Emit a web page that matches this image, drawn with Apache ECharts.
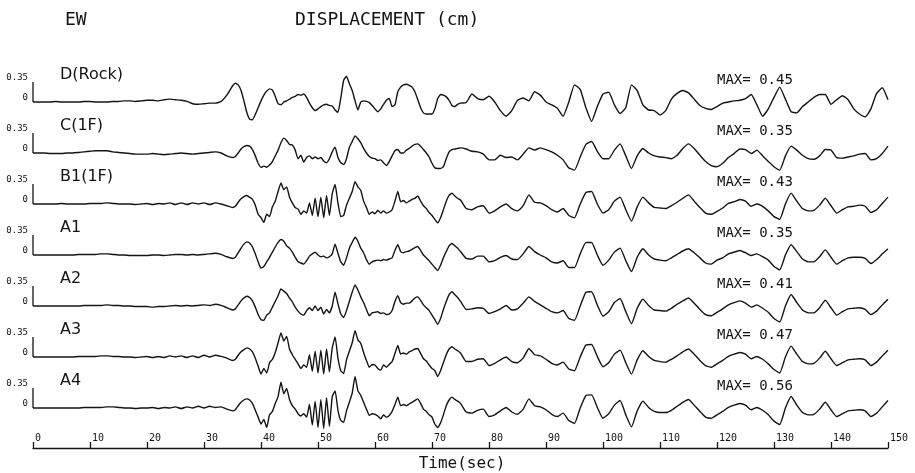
<!DOCTYPE html>
<html>
<head>
<meta charset="utf-8">
<title>EW Displacement</title>
<script src="https://cdn.jsdelivr.net/npm/echarts@6.0.0/dist/echarts.min.js"></script>
<style>
    html, body { margin: 0; padding: 0; background: #fff; }
    #chart { width: 915px; height: 473px; }
</style>
</head>
<body>
<div id="chart"></div>
<script>
// sample times (sec): 1 s steps, 0.5 s steps through the strong motion part
var time = [
    0,1,2,3,4,5,6,7,8,9,10,11,12,13,14,15,16,17,18,19,20,21,22,23,24,25,26,27,28,29,30,31,32,33,34,35,
    35.5,36,36.5,37,37.5,38,38.5,39,39.5,40,40.5,41,41.5,42,42.5,43,43.5,44,44.5,45,45.5,46,46.5,47,47.5,48,48.5,49,49.5,50,
    50.5,51,51.5,52,52.5,53,53.5,54,54.5,55,55.5,56,56.5,57,57.5,58,58.5,59,59.5,60,60.5,61,61.5,62,62.5,63,63.5,64,64.5,65,
    65.5,66,66.5,67,67.5,68,68.5,69,69.5,70,70.5,71,71.5,72,72.5,73,73.5,74,74.5,75,
    76,77,78,79,80,81,82,83,84,85,86,87,88,89,90,91,92,93,94,95,96,97,98,99,100,101,102,103,104,105,106,107,108,109,110,
    111,112,113,114,115,116,117,118,119,120,121,122,123,124,125,126,127,128,129,130,131,132,133,134,135,136,137,138,139,140,
    141,142,143,144,145,146,147,148,149,150
];

// displacement (cm)
var dRock = [
    0,0,0,0,0.01,0,0,0,0,0.01,0.01,0,0,0,0.01,0.01,0.02,0.02,0.01,0.02,0.03,0.03,0.02,0.04,0.05,0.04,0.03,0.01,-0.03,-0.04,-0.03,-0.02,-0.02,0.01,0.12,0.28,
    0.33,0.30,0.20,0.02,-0.18,-0.30,-0.31,-0.22,-0.10,0.02,0.12,0.19,0.23,0.21,0.10,-0.03,-0.05,0.00,0.02,0.05,
    0.08,0.10,0.13,0.12,0.14,0.08,-0.02,-0.10,-0.15,-0.12,-0.08,-0.05,-0.04,-0.06,-0.07,-0.14,-0.18,0.07,0.38,0.45,
    0.32,0.20,0.02,-0.14,0.00,0.02,0.01,-0.01,-0.06,-0.12,-0.17,-0.12,-0.04,0.03,0.06,-0.08,-0.05,0.18,0.26,0.30,
    0.31,0.29,0.26,0.18,0.04,-0.10,-0.19,-0.21,-0.21,-0.21,-0.12,0.06,0.13,0.12,0.09,0.03,-0.06,-0.08,-0.04,-0.02,
    -0.01,0.14,0.06,0.04,0.10,0.00,-0.15,-0.25,-0.15,0.03,0.07,0.02,0.18,0.12,0.00,-0.05,-0.11,-0.25,0.00,0.30,
    0.22,-0.10,-0.34,-0.08,0.14,0.17,-0.05,-0.20,-0.10,0.30,0.20,-0.05,-0.14,-0.15,-0.23,-0.15,0.05,0.15,0.20,0.16,
    0.05,-0.06,-0.11,-0.13,-0.08,-0.02,0.00,0.02,0.03,0.06,0.13,-0.05,-0.25,-0.12,0.08,0.26,0.05,-0.17,-0.19,-0.08,
    0.00,0.08,0.13,0.13,-0.04,0.04,0.11,0.04,-0.12,-0.21,-0.26,-0.12,0.15,0.25,0.04
];
var c1F = [
    0,0,0,-0.01,-0.01,-0.01,0,0,0.01,0.02,0.03,0.04,0.04,0.04,0.02,0.01,0,-0.01,-0.02,-0.02,-0.02,-0.01,-0.02,-0.03,-0.02,-0.01,0,-0.01,-0.02,-0.01,0,0.01,0.02,0,-0.05,-0.08,
    -0.06,0.00,0.07,0.11,0.13,0.12,0.06,-0.05,-0.18,-0.25,-0.23,-0.25,-0.21,-0.15,-0.05,0.05,0.18,0.26,0.22,0.15,
    0.14,0.05,-0.10,-0.04,-0.16,-0.08,-0.05,-0.10,-0.07,-0.10,-0.08,-0.14,-0.17,-0.10,0.02,0.10,-0.08,-0.17,-0.20,-0.10,
    0.10,0.20,0.30,0.25,0.18,0.08,0.00,-0.06,-0.09,-0.10,-0.13,-0.12,-0.17,-0.22,-0.15,-0.05,0.04,0.06,0.00,0.00,
    0.05,0.08,0.12,0.15,0.16,0.12,0.06,0.00,-0.07,-0.18,-0.26,-0.27,-0.27,-0.24,-0.10,0.02,0.06,0.07,0.08,0.09,
    0.07,0.03,0.02,-0.02,-0.12,-0.12,-0.04,-0.08,-0.07,-0.12,-0.02,0.09,0.05,0.09,0.06,0.02,-0.04,-0.12,-0.26,-0.30,
    -0.07,0.15,0.20,0.03,-0.10,-0.10,0.05,0.16,-0.05,-0.27,-0.05,0.08,0.00,-0.05,-0.07,-0.08,-0.10,-0.04,0.08,0.16,
    0.08,-0.04,-0.15,-0.22,-0.24,-0.18,-0.08,-0.01,0.07,0.06,-0.01,0.05,-0.05,-0.15,-0.24,-0.30,-0.05,0.12,0.05,-0.04,
    -0.10,-0.11,-0.05,0.06,0.05,-0.08,-0.09,-0.07,-0.05,-0.02,-0.01,-0.12,-0.10,-0.01,0.12
];
var b1F = [
    0,0,0,0,0,0.01,0,0,0,0,0.01,0.01,0.01,0.02,0.01,0,0,0,-0.01,0,0.01,-0.01,0.01,0,0.02,-0.01,0.02,-0.01,0.02,0,0.02,-0.01,0.02,0,-0.03,-0.06,
    -0.04,0.03,0.09,0.13,0.15,0.12,0.08,-0.02,-0.18,-0.24,-0.32,-0.18,-0.22,-0.05,0.05,0.22,0.37,0.25,0.30,0.12,
    0.02,-0.06,-0.09,-0.18,-0.12,-0.16,0.02,-0.20,0.10,-0.22,0.12,-0.24,0.15,-0.20,0.18,0.34,0.02,-0.22,-0.20,-0.02,
    0.10,0.22,0.39,0.30,0.24,0.05,-0.06,-0.18,-0.14,-0.17,-0.11,-0.16,-0.12,-0.16,-0.14,-0.10,0.05,0.22,0.04,0.06,
    0.02,0.05,0.08,0.10,0.14,0.05,-0.03,-0.08,-0.15,-0.20,-0.27,-0.33,-0.24,-0.10,0.05,0.15,0.19,0.14,0.10,0.07,
    -0.08,-0.10,-0.05,-0.03,-0.16,-0.12,-0.05,0.00,-0.08,-0.12,-0.03,0.16,0.03,0.02,-0.03,-0.10,-0.14,-0.08,-0.20,-0.24,
    0.00,0.20,0.22,0.00,-0.16,-0.10,0.05,0.12,-0.10,-0.30,-0.05,0.12,0.02,-0.06,-0.07,-0.08,-0.03,0.03,0.10,0.16,
    0.05,-0.06,-0.16,-0.18,-0.13,-0.07,0.01,0.04,0.08,0.05,-0.04,0.00,-0.04,-0.12,-0.22,-0.27,0.00,0.19,0.05,-0.08,
    -0.12,-0.11,-0.02,0.10,-0.03,-0.16,-0.10,-0.05,-0.04,-0.02,-0.04,-0.15,-0.10,0.01,0.12
];
var a1 = [
    0,0,0,0,0,0,0,0,0.01,0.01,0.01,0.01,0.02,0.02,0.01,0,0,-0.01,-0.01,-0.01,-0.01,0,0,-0.01,0,0.01,0.01,0,0.01,0,0.01,0.02,0.03,0.01,-0.03,-0.06,
    -0.04,0.04,0.12,0.19,0.23,0.21,0.14,0.02,-0.12,-0.23,-0.20,-0.12,-0.04,0.05,0.14,0.22,0.27,0.24,0.16,0.12,
    0.05,-0.04,-0.12,-0.14,-0.16,-0.10,-0.02,0.02,0.05,0.00,-0.03,-0.02,-0.05,-0.03,0.02,0.19,0.03,-0.12,-0.18,-0.05,
    0.12,0.22,0.31,0.24,0.12,0.04,-0.08,-0.16,-0.12,-0.10,-0.09,-0.10,-0.08,-0.09,-0.07,-0.05,0.08,0.18,0.06,0.04,
    0.06,0.07,0.10,0.13,0.15,0.08,0.00,-0.05,-0.10,-0.16,-0.22,-0.27,-0.18,-0.05,0.06,0.16,0.20,0.16,0.12,0.06,
    -0.06,-0.07,-0.02,-0.02,-0.12,-0.10,-0.04,-0.01,-0.07,-0.08,0.02,0.15,0.06,0.00,-0.05,-0.12,-0.14,-0.10,-0.22,-0.22,
    0.02,0.22,0.22,0.00,-0.18,-0.09,0.05,0.12,-0.10,-0.29,-0.04,0.11,0.00,-0.07,-0.09,-0.10,-0.05,0.01,0.07,0.11,
    0.04,-0.05,-0.14,-0.16,-0.09,-0.05,0.02,0.05,0.08,0.04,-0.01,0.02,-0.03,-0.09,-0.20,-0.26,0.00,0.18,0.06,-0.07,
    -0.12,-0.12,-0.03,0.09,-0.04,-0.16,-0.10,-0.05,-0.04,-0.04,-0.06,-0.15,-0.08,0.02,0.11
];
var a2 = [
    0,0,0,0,0,0,0,0,0,0.01,0.01,0.01,0.01,0.02,0.01,0.01,0,0,-0.01,-0.01,-0.01,-0.02,-0.01,-0.01,0,0.01,0,0.01,0,0.01,0.02,0.01,0.03,0.01,-0.03,-0.07,
    -0.05,0.02,0.09,0.14,0.17,0.15,0.09,-0.02,-0.15,-0.24,-0.25,-0.16,-0.12,-0.02,0.08,0.18,0.30,0.26,0.22,0.14,
    0.07,-0.02,-0.09,-0.14,-0.16,-0.08,-0.03,-0.08,0.00,-0.08,-0.02,-0.14,-0.06,-0.12,0.00,0.24,0.04,-0.14,-0.20,-0.08,
    0.08,0.24,0.37,0.28,0.16,0.06,-0.06,-0.17,-0.12,-0.11,-0.10,-0.13,-0.12,-0.15,-0.14,-0.08,0.08,0.18,0.06,0.03,
    0.05,0.05,0.09,0.14,0.16,0.10,0.02,-0.03,-0.08,-0.16,-0.24,-0.32,-0.22,-0.06,0.08,0.20,0.25,0.20,0.15,0.08,
    -0.06,-0.05,-0.03,-0.04,-0.13,-0.10,-0.05,0.01,-0.07,-0.05,0.05,0.16,0.08,0.02,-0.04,-0.10,-0.12,-0.08,-0.22,-0.25,
    0.00,0.24,0.25,0.02,-0.18,-0.10,0.06,0.13,-0.10,-0.31,-0.04,0.12,0.01,-0.07,-0.08,-0.09,-0.04,0.03,0.09,0.14,
    0.05,-0.06,-0.15,-0.17,-0.11,-0.05,0.02,0.06,0.09,0.05,-0.02,0.02,-0.04,-0.11,-0.22,-0.28,0.00,0.20,0.06,-0.07,
    -0.12,-0.12,-0.03,0.10,-0.03,-0.16,-0.10,-0.05,-0.04,-0.03,-0.06,-0.15,-0.09,0.02,0.12
];
var a3 = [
    0,0,0,0,0,0,0,0,0.01,0.01,0.01,0.01,0.02,0.02,0.01,0.01,0,0,-0.01,0,0.01,-0.01,0.01,-0.01,0.02,0,0.02,-0.01,0.02,-0.01,0.03,0,0.03,0.01,-0.02,-0.06,
    -0.04,0.03,0.09,0.13,0.16,0.14,0.09,-0.02,-0.16,-0.30,-0.20,-0.28,-0.10,-0.04,0.08,0.25,0.42,0.28,0.36,0.14,
    0.04,-0.04,-0.12,-0.20,-0.14,-0.18,0.04,-0.25,0.10,-0.28,0.12,-0.30,0.14,-0.26,0.16,0.35,-0.02,-0.24,-0.29,-0.05,
    0.10,0.25,0.46,0.30,0.24,0.08,-0.06,-0.18,-0.13,-0.14,-0.20,-0.23,-0.14,-0.18,-0.13,-0.08,0.06,0.20,0.05,0.07,
    0.05,0.09,0.11,0.14,0.15,0.06,-0.03,-0.07,-0.14,-0.20,-0.24,-0.34,-0.24,-0.10,0.04,0.14,0.18,0.14,0.11,0.07,
    -0.08,-0.08,-0.04,-0.03,-0.15,-0.11,-0.05,0.00,-0.08,-0.10,-0.02,0.15,0.04,0.02,-0.04,-0.11,-0.14,-0.09,-0.21,-0.24,
    0.00,0.21,0.22,0.01,-0.17,-0.10,0.05,0.12,-0.10,-0.30,-0.05,0.11,0.01,-0.06,-0.08,-0.09,-0.04,0.02,0.09,0.14,
    0.05,-0.06,-0.15,-0.18,-0.12,-0.06,0.01,0.05,0.08,0.05,-0.03,0.01,-0.04,-0.12,-0.22,-0.28,0.00,0.19,0.05,-0.08,
    -0.12,-0.11,-0.02,0.10,-0.03,-0.15,-0.10,-0.05,-0.04,-0.03,-0.05,-0.15,-0.09,0.02,0.12
];
var a4 = [
    0,0,0,0,0,0,0,0,0,0.01,0.01,0.01,0.01,0.02,0.02,0.01,0,0,-0.01,0,0,0.01,-0.01,0.01,0,0.02,-0.01,0.02,0,0.03,0,0.03,0.01,0.02,-0.02,-0.05,
    -0.03,0.04,0.10,0.14,0.16,0.14,0.08,-0.04,-0.16,-0.28,-0.20,-0.34,-0.12,-0.06,0.08,0.20,0.45,0.25,0.34,0.15,
    0.04,-0.02,-0.10,-0.14,-0.10,-0.16,0.06,-0.30,0.12,-0.34,0.15,-0.36,0.18,-0.32,0.20,0.30,-0.04,-0.22,-0.25,-0.05,
    0.10,0.26,0.55,0.30,0.22,0.10,-0.02,-0.13,-0.10,-0.11,-0.14,-0.19,-0.12,-0.16,-0.13,-0.06,0.06,0.19,0.04,0.06,
    0.04,0.07,0.10,0.13,0.16,0.08,-0.02,-0.06,-0.12,-0.16,-0.28,-0.34,-0.26,-0.12,0.04,0.14,0.19,0.15,0.12,0.08,
    -0.07,-0.09,-0.04,-0.02,-0.15,-0.12,-0.05,0.01,-0.07,-0.11,-0.02,0.16,0.04,0.02,-0.03,-0.11,-0.15,-0.09,-0.22,-0.27,
    0.00,0.22,0.23,0.01,-0.18,-0.10,0.05,0.13,-0.12,-0.33,-0.05,0.12,0.01,-0.06,-0.08,-0.08,-0.04,0.03,0.10,0.15,
    0.05,-0.06,-0.16,-0.18,-0.12,-0.06,0.01,0.05,0.08,0.05,-0.03,0.01,-0.04,-0.12,-0.23,-0.29,0.00,0.20,0.05,-0.08,
    -0.12,-0.11,-0.02,0.10,-0.03,-0.15,-0.10,-0.05,-0.04,-0.03,-0.05,-0.15,-0.09,0.02,0.13
];

var traceNames = ['D(Rock)', 'C(1F)', 'B1(1F)', 'A1', 'A2', 'A3', 'A4'];
var maxValues = ['0.45', '0.35', '0.43', '0.35', '0.41', '0.47', '0.56'];
var scaleTicks = [0, 0.35];   // 0.35 cm scale bar on each trace
var scaleBar = [0, 0.35];

var traces = [dRock, c1F, b1F, a1, a2, a3, a4];

var MONO = '"DejaVu Sans Mono", monospace';
var SANS = '"DejaVu Sans", sans-serif';
var INK = '#141414';

function buildOption() {
    var firstTop = 62, step = 51, bandH = 80;
    var grids = [], xAxes = [], yAxes = [], series = [];
    var texts = [
        { type: 'text', x: 65, y: 20, style: { text: 'EW', font: '18px ' + MONO, fill: INK, verticalAlign: 'middle' } },
        { type: 'text', x: 295, y: 20, style: { text: 'DISPLACEMENT (cm)', font: '18px ' + MONO, fill: INK, verticalAlign: 'middle' } },
        { type: 'text', x: 462, y: 464, style: { text: 'Time(sec)', font: '16px ' + MONO, fill: INK, align: 'center', verticalAlign: 'middle' } }
    ];

    traces.forEach(function (vals, i) {
        var top = firstTop + step * i;
        var base = top + bandH / 2;
        var last = i === traces.length - 1;

        grids.push({ left: 33, right: 27, top: top, height: bandH });

        xAxes.push({
            gridIndex: i, type: 'value', min: 0, max: 150, interval: 10,
            show: last,
            axisLine: { show: true, onZero: false, lineStyle: { color: INK, width: 1.3 } },
            axisTick: { show: true, inside: true, length: 6, lineStyle: { color: INK, width: 1.3 } },
            axisLabel: {
                inside: true, margin: 5, align: 'left', padding: [0, 0, 0, 2],
                fontFamily: MONO, fontSize: 10, color: INK
            },
            splitLine: { show: false }
        });

        yAxes.push({
            gridIndex: i, type: 'value', min: -0.7, max: 0.7,
            axisLine: { show: false },
            axisTick: { show: false },
            splitLine: { show: false },
            axisLabel: {
                customValues: scaleTicks, margin: 5, verticalAlign: 'bottom',
                fontFamily: MONO, fontSize: 9, color: INK
            }
        });

        series.push({
            name: traceNames[i], type: 'line', xAxisIndex: i, yAxisIndex: i,
            data: time.map(function (t, k) { return [t, vals[k]]; }),
            showSymbol: false, smooth: 0.15, clip: false, silent: true,
            lineStyle: { color: INK, width: 1.4 }
        });

        series.push({
            type: 'line', xAxisIndex: i, yAxisIndex: i,
            data: scaleBar.map(function (v) { return [0, v]; }),
            showSymbol: false, silent: true,
            lineStyle: { color: INK, width: 1.3 }
        });

        texts.push({ type: 'text', x: 60, y: base - 27, style: { text: traceNames[i], font: '16px ' + SANS, fill: INK, verticalAlign: 'middle' } });
        texts.push({ type: 'text', x: 717, y: base - 22, style: { text: 'MAX= ' + maxValues[i], font: '14px ' + MONO, fill: INK, verticalAlign: 'middle' } });
    });

    return {
        backgroundColor: '#fff',
        animation: false,
        grid: grids,
        xAxis: xAxes,
        yAxis: yAxes,
        series: series,
        graphic: texts
    };
}

function loadChart(id, option) {
    var myChart = echarts.init(document.getElementById(id), null, { renderer: 'canvas' });
    myChart.setOption(option);
    return myChart;
}

loadChart('chart', buildOption());
</script>
</body>
</html>
